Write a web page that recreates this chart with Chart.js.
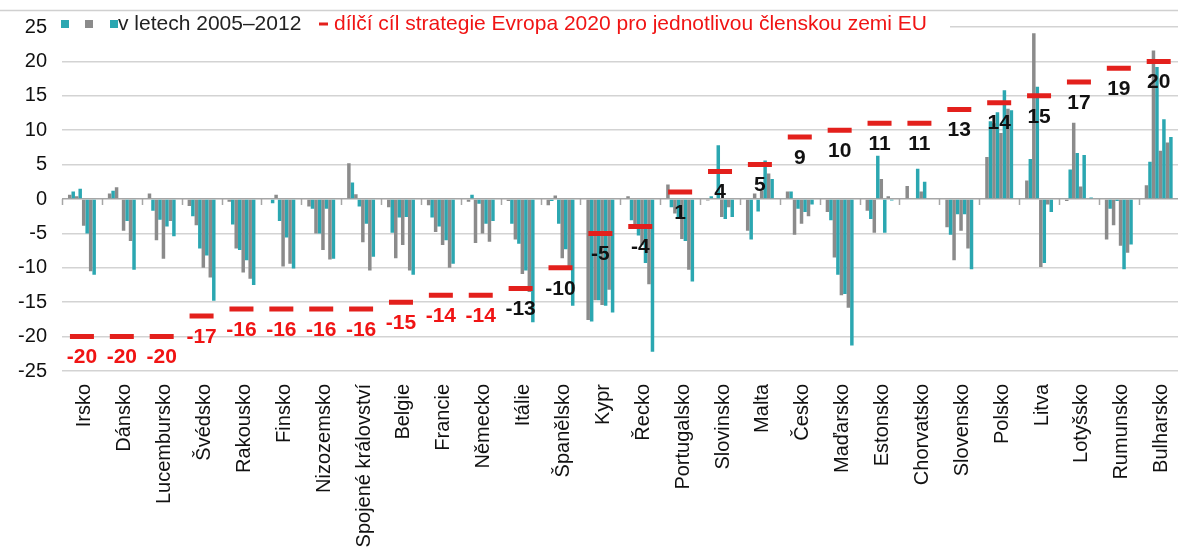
<!DOCTYPE html>
<html>
<head>
<meta charset="utf-8">
<script src="https://cdn.jsdelivr.net/npm/chart.js@4"></script>
<style>
  html, body { margin: 0; padding: 0; background: #fff; overflow: hidden; }
  #wrap { width: 1196px; height: 554px; }
</style>
</head>
<body>
<div id="wrap"><canvas id="emiseChart" width="1196" height="554"></canvas></div>
<script>
// Země EU seřazené podle cíle
const zeme = ['Irsko', 'Dánsko', 'Lucembursko', 'Švédsko', 'Rakousko', 'Finsko', 'Nizozemsko',
  'Spojené království', 'Belgie', 'Francie', 'Německo', 'Itálie', 'Španělsko', 'Kypr', 'Řecko',
  'Portugalsko', 'Slovinsko', 'Malta', 'Česko', 'Maďarsko', 'Estonsko', 'Chorvatsko', 'Slovensko',
  'Polsko', 'Litva', 'Lotyšsko', 'Rumunsko', 'Bulharsko'];

// Změna v jednotlivých letech 2005–2012 (%)
const r2005 = [0.6, 0.8, 0.8, -1.0, -0.4, 0, -1.1, 5.2, -1.2, -0.9, -0.4, -0.3, -0.9, -17.6, 0.4, 2.1, -0.2, -4.6, 1.1, -1.9, -1.7, 1.9, -4.1, 6.1, 2.7, -0.3, -5.9, 2.0];
const r2006 = [1.1, 1.2, -1.7, -2.5, -3.7, -0.6, -1.4, 2.4, -4.9, -2.7, 0.6, -3.6, -0.3, -17.8, -3.1, -1.2, 0.4, -5.9, 1.1, -3.1, -2.9, 0, -5.2, 11.3, 5.8, 4.3, -1.4, 5.4];
const r2007 = [0.4, 1.7, -6.0, -3.8, -7.2, 0.6, -5.0, 0.7, -8.6, -4.8, -6.4, -5.9, 0.5, -14.7, -4.3, -2.1, 0.1, 0.8, -5.2, -8.5, -4.9, 0, -8.9, 11.0, 24.1, 11.1, -3.8, 21.6];
const r2008 = [1.5, 0, -3.0, -7.2, -7.4, -3.2, -5.0, -1.1, -2.7, -4.0, -0.7, -6.5, -3.6, -14.7, -5.3, -2.6, 7.8, -1.8, -1.4, -11.0, 6.3, 4.4, -2.2, 12.6, 16.3, 6.7, -0.3, 19.2];
const r2009 = [-3.9, -4.6, -8.7, -10.0, -10.7, -9.8, -7.4, -6.3, -6.7, -6.7, -5.0, -10.9, -8.6, -15.4, -6.7, -5.8, -2.6, 1.2, -3.6, -14.0, 2.9, 1.1, -4.6, 9.6, -9.9, 1.8, -6.8, 7.0];
const r2010 = [-5.0, -3.2, -4.0, -8.2, -8.9, -5.6, -1.4, -3.6, -2.6, -6.0, -3.6, -10.4, -7.3, -15.5, -9.3, -6.1, -2.9, 5.6, -1.9, -13.8, -4.9, 2.5, -2.2, 15.8, -9.3, 6.4, -10.2, 11.6];
const r2011 = [-10.5, -6.1, -3.2, -11.4, -11.6, -9.4, -8.8, -10.4, -10.4, -10.0, -6.2, -13.5, -10.0, -13.2, -12.4, -10.3, -1.2, 3.7, -2.5, -15.8, 0.4, 0, -7.2, 13.1, -0.8, 0, -7.8, 8.2];
const r2012 = [-11.0, -10.3, -5.4, -14.8, -12.5, -10.1, -8.7, -8.4, -11.0, -9.4, -3.2, -17.9, -15.5, -16.5, -22.2, -12.0, -2.6, 2.9, -0.8, -21.3, -0.2, 0, -10.2, 12.9, -1.9, 0.2, -6.6, 9.0];

const roky = ['2005', '2006', '2007', '2008', '2009', '2010', '2011', '2012'];
const radyLet = [r2005, r2006, r2007, r2008, r2009, r2010, r2011, r2012];

// Dílčí cíl strategie Evropa 2020 (%)
const cil2020 = [-20, -20, -20, -17, -16, -16, -16, -16, -15, -14, -14, -13, -10, -5, -4, 1, 4, 5, 9, 10, 11, 11, 13, 14, 15, 17, 19, 20];

const yTicks = [-25, -20, -15, -10, -5, 0, 5, 10, 15, 20, 25];

const TEAL = '#2ba7b1';
const SEDA = '#8b8b8b';
const CERVENA = '#e3201c';
const FONT = "'Liberation Sans', Arial, sans-serif";

const ctx = document.getElementById('emiseChart').getContext('2d');

// Sloupce pro roky, barvy se střídají
const sloupce = radyLet.map((rada, i) => ({
  type: 'bar',
  label: roky[i],
  data: rada,
  backgroundColor: i % 2 === 0 ? SEDA : TEAL,
  borderWidth: 0,
  categoryPercentage: 0.7,
  barPercentage: 1.0,
  order: 2
}));

// Cíl jako červená čárka
const cile = {
  type: 'line',
  label: 'cíl',
  data: cil2020,
  showLine: false,
  pointStyle: 'line',
  pointRadius: 12,
  pointHoverRadius: 12,
  pointBorderWidth: 5,
  pointHoverBorderWidth: 5,
  pointBorderColor: CERVENA,
  pointBackgroundColor: CERVENA,
  order: 0
};

// Doplňky: čárky osy v nule, popisky cílů, legenda
const doplnky = {
  id: 'doplnky',
  beforeDatasetsDraw(chart) {
    const c = chart.ctx;
    const x = chart.scales.x;
    const y = chart.scales.y;
    const y0 = y.getPixelForValue(0);
    const w = (x.right - x.left) / zeme.length;
    c.save();
    c.strokeStyle = '#a6a6a6';
    c.lineWidth = 1.5;
    c.beginPath();
    for (let k = 0; k <= zeme.length; k++) {
      const px = Math.round(x.left + k * w) + 0.5;
      c.moveTo(px, y0);
      c.lineTo(px, y0 + 6);
    }
    c.stroke();
    c.restore();
  },
  afterDatasetsDraw(chart) {
    const c = chart.ctx;
    const meta = chart.getDatasetMeta(chart.data.datasets.length - 1);
    c.save();
    c.font = 'bold 21px ' + FONT;
    c.textAlign = 'center';
    c.textBaseline = 'middle';
    meta.data.forEach((pt, i) => {
      c.fillStyle = i <= 10 ? '#f01414' : '#111111';
      c.fillText(String(cil2020[i]), pt.x, pt.y + 21);
    });
    c.restore();
  },
  afterDraw(chart) {
    const c = chart.ctx;
    c.save();
    // horní linka
    c.strokeStyle = '#d0d0d0';
    c.lineWidth = 1.5;
    c.beginPath();
    c.moveTo(0, 10.5);
    c.lineTo(chart.width, 10.5);
    c.stroke();
    // legenda
    c.fillStyle = '#ffffff';
    c.fillRect(52, 13, 898, 22);
    const ly = 24;
    c.fillStyle = TEAL; c.fillRect(61, ly - 4, 8, 8);
    c.fillStyle = SEDA; c.fillRect(85, ly - 4, 8, 8);
    c.fillStyle = TEAL; c.fillRect(110, ly - 4, 8, 8);
    c.font = '21px ' + FONT;
    c.textBaseline = 'middle';
    c.textAlign = 'left';
    c.fillStyle = '#222222';
    c.fillText('v letech 2005–2012', 118, ly);
    c.fillStyle = CERVENA;
    c.fillRect(319, ly - 1.5, 9, 3);
    c.fillStyle = '#f01414';
    c.fillText('dílčí cíl strategie Evropa 2020 pro jednotlivou členskou zemi EU', 334, ly);
    c.restore();
  }
};

const grafEmise = new Chart(ctx, {
  data: {
    labels: zeme,
    datasets: [...sloupce, cile]
  },
  options: {
    responsive: false,
    animation: false,
    devicePixelRatio: 1,
    layout: { padding: { top: 22, left: 0, right: 0, bottom: 0 } },
    plugins: {
      legend: { display: false },
      tooltip: { enabled: false }
    },
    scales: {
      x: {
        grid: { display: false, drawTicks: false },
        border: { display: false },
        ticks: {
          autoSkip: false,
          minRotation: 90,
          maxRotation: 90,
          padding: 13,
          labelOffset: 3,
          color: '#111111',
          font: { family: FONT, size: 20 }
        },
        afterFit(s) { s.height = 183; }
      },
      y: {
        min: -25,
        max: 25,
        afterBuildTicks(s) { s.ticks = yTicks.map(v => ({ value: v })); },
        grid: {
          drawTicks: false,
          lineWidth: 1.5,
          color: (c) => (c.tick && c.tick.value === 0) ? '#a6a6a6' : '#d3d3d3'
        },
        border: { display: false },
        ticks: {
          padding: 15,
          color: '#111111',
          font: { family: FONT, size: 20 }
        },
        afterFit(s) { s.width = 62; }
      }
    }
  },
  plugins: [doplnky]
});
</script>
</body>
</html>
